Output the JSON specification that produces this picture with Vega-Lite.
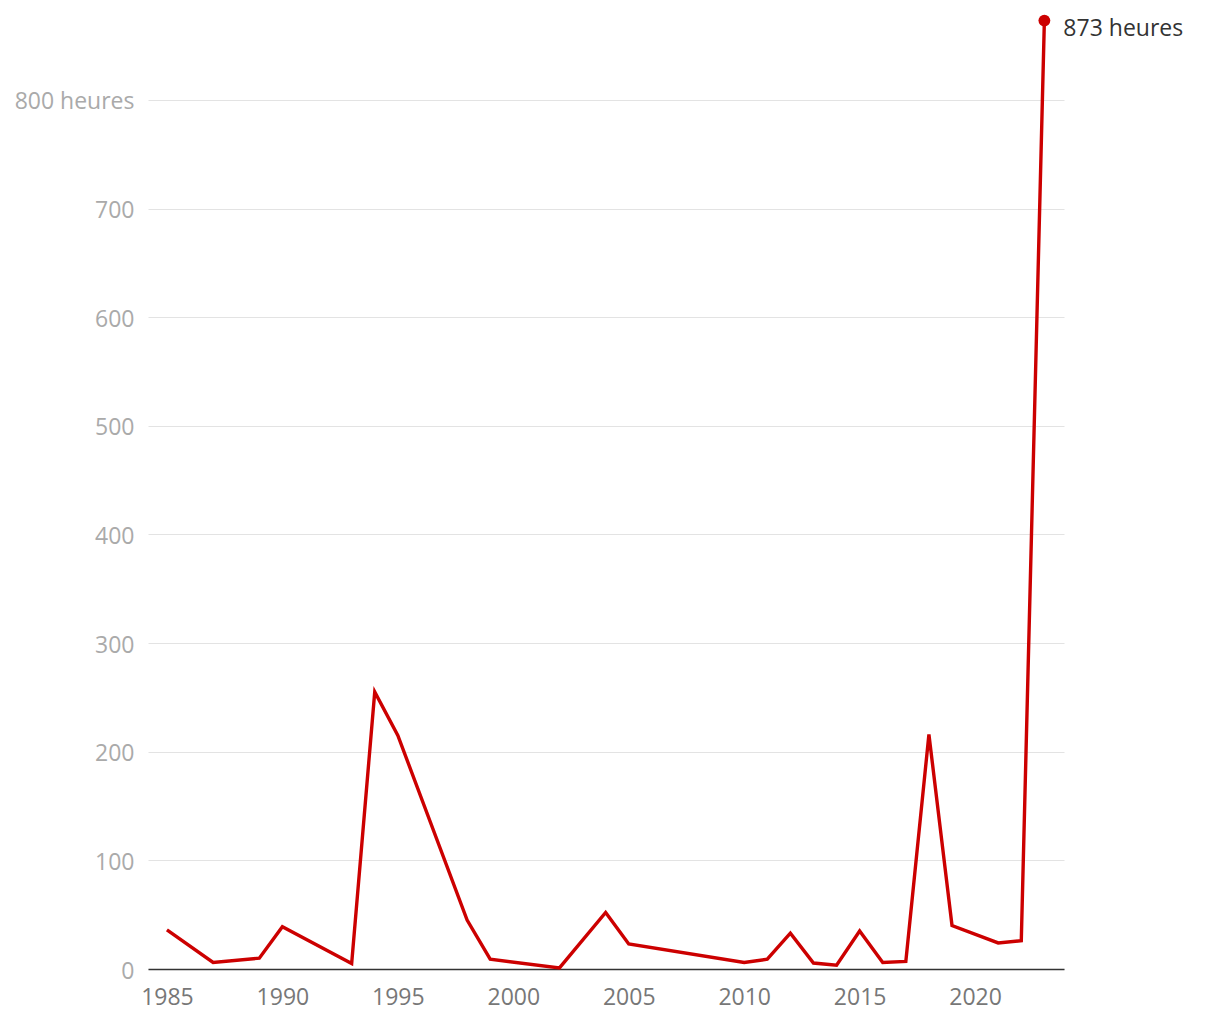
{
  "$schema": "https://vega.github.io/schema/vega-lite/v6.json",
  "autosize": {"type": "none"},
  "width": 916,
  "height": 956,
  "padding": {"left": 148, "top": 13, "right": 156, "bottom": 51},
  "background": "white",
  "config": {"view": {"stroke": null}, "font": "Open Sans"},
  "data": {"values": [
    {"annee": 1985, "heures": 36},
    {"annee": 1987, "heures": 6},
    {"annee": 1989, "heures": 10},
    {"annee": 1990, "heures": 39},
    {"annee": 1993, "heures": 5},
    {"annee": 1994, "heures": 255},
    {"annee": 1995, "heures": 215},
    {"annee": 1998, "heures": 45},
    {"annee": 1999, "heures": 9},
    {"annee": 2002, "heures": 1},
    {"annee": 2004, "heures": 52},
    {"annee": 2005, "heures": 23},
    {"annee": 2010, "heures": 6},
    {"annee": 2011, "heures": 9},
    {"annee": 2012, "heures": 33},
    {"annee": 2013, "heures": 5.5},
    {"annee": 2014, "heures": 3.5},
    {"annee": 2015, "heures": 35},
    {"annee": 2016, "heures": 6},
    {"annee": 2017, "heures": 7},
    {"annee": 2018, "heures": 216},
    {"annee": 2019, "heures": 40},
    {"annee": 2021, "heures": 24},
    {"annee": 2022, "heures": 26},
    {"annee": 2023, "heures": 873}
  ]},
  "encoding": {
    "x": {"field": "annee", "type": "quantitative",
      "scale": {"domain": [1984.18, 2023.85], "nice": false, "zero": false},
      "axis": {"title": null, "values": [1985, 1990, 1995, 2000, 2005, 2010, 2015, 2020], "format": "d",
        "grid": false, "ticks": false, "domainColor": "#333333", "domainWidth": 1.5,
        "labelFontSize": 23, "labelColor": "#777777", "labelPadding": 17, "labelFlush": false}},
    "y": {"field": "heures", "type": "quantitative",
      "scale": {"domain": [0, 880], "nice": false},
      "axis": {"title": null, "values": [0, 100, 200, 300, 400, 500, 600, 700, 800],
        "labelExpr": "datum.value == 800 ? '800 heures' : datum.label",
        "domain": false, "ticks": false, "gridColor": "#e3e3e3", "gridWidth": 1,
        "labelFontSize": 23, "labelColor": "#aaaaaa", "labelPadding": 14, "labelOffset": 2}}
  },
  "layer": [
    {"mark": {"type": "line", "color": "#cc0000", "strokeWidth": 3.4, "clip": false}},
    {"transform": [{"filter": "datum.annee == 2023"}],
     "mark": {"type": "point", "filled": true, "color": "#cc0000", "size": 140, "opacity": 1}},
    {"transform": [{"filter": "datum.annee == 2023"}],
     "mark": {"type": "text", "align": "left", "baseline": "middle", "dx": 19, "dy": 8, "fontSize": 23, "color": "#333333"},
     "encoding": {"text": {"value": "873 heures"}}}
  ]
}
